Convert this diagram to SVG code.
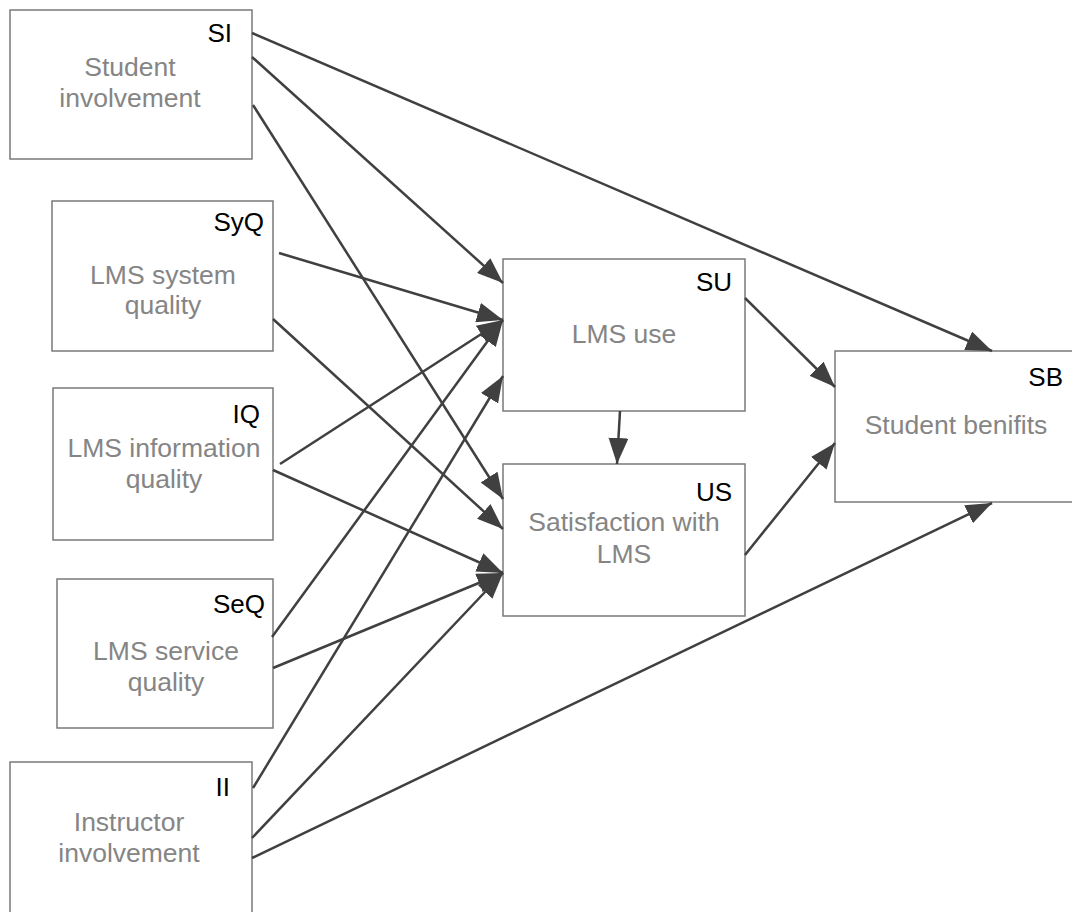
<svg xmlns="http://www.w3.org/2000/svg" width="1072" height="912" viewBox="0 0 1072 912">
  <style>
    .box { fill: #ffffff; stroke: #7a7a7a; stroke-width: 1.5; }
    .name { font-family: "Liberation Sans", Arial, sans-serif; font-size: 26.5px; fill: #858585; text-anchor: middle; }
    .code { font-family: "Liberation Sans", Arial, sans-serif; font-size: 26px; fill: #000000; text-anchor: end; }
    .edge { stroke: #404040; stroke-width: 2.5; fill: none; marker-end: url(#head); }
  </style>
  <defs>
    <marker id="head" viewBox="0 0 26 20" refX="26" refY="10" markerWidth="26" markerHeight="20" markerUnits="userSpaceOnUse" orient="auto">
      <path d="M0,0 L26,10 L0,20 Z" fill="#404040"/>
    </marker>
  </defs>
  <rect width="1072" height="912" fill="#ffffff"/>

  <g id="node-SI">
    <rect class="box" x="10" y="10" width="242" height="149"/>
    <text class="code" x="232" y="42">SI</text>
    <text class="name" x="130" y="76">Student</text>
    <text class="name" x="130" y="107">involvement</text>
  </g>
  <g id="node-SyQ">
    <rect class="box" x="52" y="201" width="221" height="150"/>
    <text class="code" x="264" y="231">SyQ</text>
    <text class="name" x="163" y="284">LMS system</text>
    <text class="name" x="163" y="314">quality</text>
  </g>
  <g id="node-IQ">
    <rect class="box" x="53" y="388" width="220" height="152"/>
    <text class="code" x="260" y="423">IQ</text>
    <text class="name" x="164" y="457">LMS information</text>
    <text class="name" x="164" y="488">quality</text>
  </g>
  <g id="node-SeQ">
    <rect class="box" x="57" y="579" width="216" height="149"/>
    <text class="code" x="265" y="613">SeQ</text>
    <text class="name" x="166" y="660">LMS service</text>
    <text class="name" x="166" y="691">quality</text>
  </g>
  <g id="node-II">
    <rect class="box" x="10" y="762" width="242" height="160"/>
    <text class="code" x="230" y="796">II</text>
    <text class="name" x="129" y="831">Instructor</text>
    <text class="name" x="129" y="862">involvement</text>
  </g>
  <g id="node-SU">
    <rect class="box" x="503" y="259" width="242" height="152"/>
    <text class="code" x="732" y="291">SU</text>
    <text class="name" x="624" y="343">LMS use</text>
  </g>
  <g id="node-US">
    <rect class="box" x="503" y="464" width="242" height="152"/>
    <text class="code" x="732" y="501">US</text>
    <text class="name" x="624" y="531">Satisfaction with</text>
    <text class="name" x="624" y="563">LMS</text>
  </g>
  <g id="node-SB">
    <rect class="box" x="835" y="351" width="242" height="151"/>
    <text class="code" x="1063" y="386">SB</text>
    <text class="name" x="956" y="434">Student benifits</text>
  </g>

  <g id="connectors">
    <line class="edge" x1="252" y1="33" x2="992" y2="351"/>
    <line class="edge" x1="252" y1="57" x2="503" y2="283"/>
    <line class="edge" x1="253" y1="105" x2="503" y2="499"/>
    <line class="edge" x1="279" y1="253" x2="503" y2="320"/>
    <line class="edge" x1="273" y1="319" x2="503" y2="529"/>
    <line class="edge" x1="280" y1="464" x2="503" y2="320"/>
    <line class="edge" x1="273" y1="470" x2="503" y2="573"/>
    <line class="edge" x1="272" y1="637" x2="503" y2="320"/>
    <line class="edge" x1="273" y1="668" x2="503" y2="573"/>
    <line class="edge" x1="253" y1="788" x2="503" y2="376"/>
    <line class="edge" x1="252" y1="838" x2="503" y2="573"/>
    <line class="edge" x1="252" y1="858" x2="992" y2="503"/>
    <line class="edge" x1="620" y1="411" x2="617" y2="464"/>
    <line class="edge" x1="745" y1="298" x2="835" y2="387"/>
    <line class="edge" x1="745" y1="555" x2="835" y2="443"/>
  </g>
</svg>
